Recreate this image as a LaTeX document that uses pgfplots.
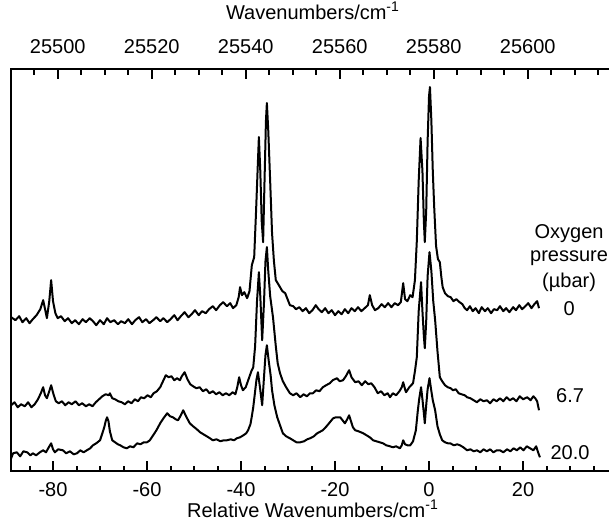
\documentclass[border=0pt]{standalone}
\usepackage{fontspec}
\setmainfont{Liberation Sans}
\usepackage{pgfplots}
\pgfplotsset{compat=1.18}
\pgfplotsset{trace/.style={black, line width=1pt, mark=none, line join=round},
  tickmark/.style={black, line width=1pt, mark=none, ycomb, forget plot}}
\begin{document}
\begin{tikzpicture}
\begin{axis}[
  scale only axis, width=302pt, height=201pt,
  xmin=-88.94, xmax=39.57, ymin=0, ymax=401.7,
  axis line style={line width=1pt},
  ytick=\empty,
  xtick={-80,-60,...,20},
  xtick pos=left, xticklabel pos=left,
  xtick style={draw=none},
  /pgf/number format/assume math mode=true,
  xticklabel style={font=\fontsize{10}{12}\selectfont, yshift=-2pt},
  xlabel={Relative Wavenumbers/cm\textsuperscript{-1}},
  xlabel style={font=\fontsize{10}{12}\selectfont, yshift=5pt},
  clip=false,
]
% top trace: 0 ubar
\addplot[trace] coordinates {
(-88.9,154)(-88.0,151)(-87.2,155)(-86.5,149)(-85.7,153)(-85.0,148)(-84.3,152)(-83.5,156)(-82.7,162)(-82.1,171)
(-81.6,160)(-81.3,153)(-80.8,170)(-80.4,191)(-80.0,170)(-79.5,158)(-79.0,153)(-78.3,155)(-77.5,150)(-76.8,153)
(-76.0,148)(-75.3,151)(-74.5,147)(-73.7,152)(-73.0,149)(-72.2,153)(-71.5,150)(-70.8,146)(-70.0,151)(-69.2,147)
(-68.5,153)(-67.8,149)(-67.0,151)(-66.2,147)(-65.5,150)(-64.7,148)(-64.0,152)(-63.2,147)(-62.5,151)(-61.7,154)
(-61.0,149)(-60.2,152)(-59.5,148)(-58.7,151)(-58.0,154)(-57.2,150)(-56.5,153)(-55.7,149)(-55.0,152)(-54.2,156)
(-53.5,151)(-52.8,155)(-52.0,159)(-51.2,154)(-50.5,157)(-49.8,161)(-49.0,156)(-48.3,160)(-47.5,158)(-46.8,162)
(-46.0,165)(-45.3,161)(-44.5,166)(-43.8,169)(-43.0,165)(-42.3,168)(-41.7,163)(-41.0,166)(-40.5,174)(-40.2,184)
(-39.8,176)(-39.3,179)(-38.7,173)(-38.2,180)(-37.7,206)(-37.2,214)(-36.8,260)(-36.4,310)(-36.2,334)(-35.9,300)
(-35.6,250)(-35.3,229)(-35.0,290)(-34.7,350)(-34.5,368)(-34.2,340)(-33.8,290)(-33.4,238)(-33.0,210)(-32.6,191)
(-32.2,188)(-31.7,184)(-31.2,180)(-30.6,178)(-30.1,172)(-29.6,166)(-28.9,165)(-28.3,162)(-27.6,164)(-26.9,160)
(-26.2,163)(-25.5,158)(-24.8,161)(-24.1,166)(-23.5,162)(-22.8,159)(-22.1,163)(-21.4,158)(-20.7,161)(-20.0,156)
(-19.3,160)(-18.6,157)(-17.9,162)(-17.2,158)(-16.5,163)(-15.8,160)(-15.1,164)(-14.4,160)(-13.7,163)(-13.0,166)
(-12.6,176)(-12.1,166)(-11.5,161)(-10.8,163)(-10.1,167)(-9.4,164)(-8.7,168)(-8.0,164)(-7.3,168)(-6.6,166)
(-6.0,169)(-5.5,188)(-5.1,172)(-4.6,170)(-4.0,176)(-3.5,174)(-3.0,191)(-2.6,230)(-2.2,290)(-1.8,333)
(-1.4,300)(-1.1,250)(-0.9,229)(-0.6,260)(-0.3,330)(0.0,375)(0.2,384)(0.5,350)(0.8,300)(1.1,264)
(1.5,225)(1.9,212)(2.3,209)(2.6,195)(2.9,184)(3.4,178)(4.0,175)(4.6,174)(5.2,170)(5.8,172)
(6.5,169)(7.1,167)(7.6,163)(8.1,161)(8.7,165)(9.3,160)(9.9,163)(10.6,158)(11.2,164)(11.9,160)
(12.5,163)(13.2,158)(13.8,162)(14.5,161)(15.1,165)(15.8,160)(16.4,163)(17.1,159)(17.9,164)(18.5,161)
(19.2,166)(19.8,162)(20.5,165)(21.1,168)(21.8,163)(22.4,167)(23.0,170)(23.4,163)
};
% middle trace: 6.7 ubar
\addplot[trace] coordinates {
(-88.9,66)(-88.2,69)(-87.5,64)(-86.8,67)(-86.0,65)(-85.3,69)(-84.6,64)(-83.9,67)(-83.2,72)(-82.6,78)
(-82.1,84)(-81.7,76)(-81.3,73)(-80.8,80)(-80.4,86)(-79.9,77)(-79.4,70)(-78.8,68)(-78.1,70)(-77.4,66)
(-76.7,69)(-76.0,67)(-75.2,70)(-74.5,66)(-73.8,68)(-73.0,65)(-72.3,67)(-71.6,65)(-70.9,69)(-70.2,72)
(-69.5,75)(-68.8,77)(-68.1,76)(-67.9,78)(-67.4,73)(-66.8,72)(-66.1,70)(-65.4,69)(-64.7,67)(-64.0,70)
(-63.3,68)(-62.6,72)(-61.9,70)(-61.3,74)(-60.6,73)(-59.9,76)(-59.2,74)(-58.6,78)(-57.9,80)(-57.2,84)
(-56.6,90)(-56.0,96)(-55.4,94)(-54.8,95)(-54.2,91)(-53.6,93)(-53.0,91)(-52.6,95)(-52.0,99)(-51.4,92)
(-50.8,87)(-50.2,85)(-49.5,83)(-48.8,84)(-48.1,80)(-47.4,82)(-46.7,78)(-46.0,80)(-45.3,77)(-44.6,79)
(-43.9,76)(-43.2,78)(-42.5,76)(-41.8,79)(-41.2,77)(-40.8,84)(-40.4,94)(-40.0,86)(-39.6,81)(-39.0,84)
(-38.4,92)(-37.8,100)(-37.4,104)(-37.0,125)(-36.6,170)(-36.2,199)(-35.9,175)(-35.5,131)(-35.1,170)(-34.8,210)
(-34.5,224)(-34.2,200)(-33.8,175)(-33.2,154)(-32.6,125)(-32.2,108)(-31.7,98)(-31.1,90)(-30.4,84)(-29.6,78)
(-28.9,76)(-28.2,78)(-27.4,74)(-26.7,77)(-26.0,75)(-25.3,78)(-24.7,78)(-24.0,81)(-23.3,80)(-22.6,84)
(-21.9,86)(-21.1,88)(-20.5,91)(-19.6,93)(-19.0,90)(-18.3,91)(-17.7,95)(-17.0,101)(-16.5,94)(-15.7,89)
(-15.0,90)(-14.3,86)(-13.6,90)(-12.9,87)(-12.3,88)(-11.6,84)(-10.9,78)(-10.2,80)(-9.5,76)(-8.8,78)
(-8.3,74)(-7.7,78)(-7.0,76)(-6.3,80)(-5.8,84)(-5.5,89)(-5.1,82)(-4.9,79)(-4.2,84)(-3.4,88)
(-3.0,100)(-2.6,114)(-2.2,160)(-1.7,189)(-1.4,160)(-1.1,135)(-0.9,123)(-0.6,150)(-0.3,195)(0.1,219)
(0.5,200)(0.9,170)(1.3,151)(1.8,120)(2.3,94)(2.8,90)(3.4,86)(4.0,84)(4.6,83)(5.1,81)
(5.7,82)(6.3,78)(6.9,77)(7.6,76)(8.1,74)(8.8,73)(9.5,71)(10.2,69)(10.9,72)(11.6,70)
(12.3,71)(13.0,68)(13.7,72)(14.4,70)(15.1,73)(15.8,70)(16.5,74)(17.2,71)(17.9,73)(18.6,70)
(19.3,75)(20.0,72)(20.9,74)(21.6,71)(22.2,75)(22.6,73)(23.0,70)(23.4,61)
};
% bottom trace: 20.0 ubar
\addplot[trace] coordinates {
(-88.9,13)(-88.5,18)(-87.7,19)(-87.0,15)(-86.3,20)(-85.5,19)(-84.8,16)(-84.3,18)(-83.6,16)(-82.8,19)
(-82.1,21)(-81.5,19)(-80.9,24)(-80.4,28)(-80.0,22)(-79.6,19)(-78.9,22)(-77.9,21)(-77.2,18)(-76.4,20)
(-75.6,17)(-74.9,18)(-74.2,21)(-73.5,19)(-72.8,21)(-72.1,23)(-71.5,26)(-70.8,28)(-70.0,31)(-69.5,38)
(-69.1,44)(-68.8,50)(-68.5,54)(-68.2,50)(-67.9,40)(-67.4,31)(-66.8,29)(-66.2,27)(-65.7,26)(-65.0,24)
(-64.3,23)(-63.6,25)(-62.9,24)(-62.1,28)(-61.4,27)(-60.7,29)(-60.0,29)(-59.4,31)(-58.7,36)(-58.0,41)
(-57.2,48)(-56.5,53)(-55.7,58)(-55.1,55)(-54.5,54)(-53.9,52)(-53.4,51)(-52.8,56)(-52.3,61)(-51.7,55)
(-50.9,48)(-50.2,45)(-49.4,42)(-48.7,39)(-48.0,37)(-47.3,35)(-46.6,33)(-46.0,31)(-45.2,32)(-44.4,30)
(-43.7,31)(-43.0,31)(-42.2,32)(-41.5,31)(-40.9,33)(-40.2,34)(-39.5,36)(-38.9,38)(-38.5,41)(-38.0,47)
(-37.7,55)(-37.4,64)(-37.0,80)(-36.7,92)(-36.4,99)(-36.0,85)(-35.5,66)(-35.1,95)(-34.8,116)(-34.5,126)
(-34.1,110)(-33.7,96)(-33.4,81)(-32.9,66)(-32.3,54)(-31.7,46)(-31.1,38)(-30.4,35)(-29.6,33)(-28.9,31)
(-28.2,29)(-27.4,29)(-26.6,30)(-25.9,32)(-25.3,33)(-24.5,35)(-23.8,38)(-22.6,41)(-21.8,45)(-21.1,49)
(-20.4,53)(-19.8,54)(-18.9,54)(-18.4,51)(-17.9,48)(-17.4,52)(-17.0,56)(-16.6,50)(-16.2,44)(-15.7,41)
(-15.0,40)(-14.0,38)(-13.3,36)(-12.6,34)(-11.9,31)(-11.2,30)(-10.5,29)(-9.8,28)(-9.1,26)(-8.3,25)
(-7.7,24)(-7.0,25)(-6.2,23)(-5.8,26)(-5.5,31)(-5.1,27)(-4.6,26)(-4.0,26)(-3.4,30)(-2.8,41)
(-2.4,60)(-2.1,72)(-1.7,84)(-1.4,72)(-1.1,58)(-0.9,48)(-0.6,66)(-0.3,82)(0.1,93)(0.5,80)
(0.8,71)(1.3,61)(1.8,45)(2.3,37)(2.8,31)(3.4,29)(4.0,28)(4.5,28)(5.3,26)(6.0,27)
(6.6,26)(7.3,24)(8.1,21)(8.8,22)(9.5,20)(10.2,21)(10.9,19)(11.6,22)(12.3,20)(13.0,22)
(13.7,19)(14.4,21)(15.1,21)(15.8,19)(16.6,22)(17.3,20)(18.0,23)(18.7,21)(19.4,24)(20.1,21)
(20.8,25)(21.5,23)(22.2,21)(22.8,25)(23.2,19)(23.6,14)
};
\node[font=\fontsize{10}{12}\selectfont] at (axis cs:29.8,238) {Oxygen};
\node[font=\fontsize{10}{12}\selectfont] at (axis cs:29.8,213) {pressure};
\node[font=\fontsize{10}{12}\selectfont] at (axis cs:29.8,189) {(µbar)};
\node[font=\fontsize{10}{12}\selectfont] at (axis cs:29.8,163) {0};
\node[font=\fontsize{10}{12}\selectfont] at (axis cs:30.0,76) {6.7};
\node[font=\fontsize{10}{12}\selectfont] at (axis cs:30.0,19) {20.0};
\end{axis}
% bottom tick marks: reversed helper axis, so y=0 lies on the bottom edge
\begin{axis}[
  scale only axis, width=302pt, height=201pt,
  xmin=-88.94, xmax=39.57, ymin=-201, ymax=0, y dir=reverse,
  hide axis,
]
\addplot[tickmark] coordinates {(-80,-5)(-60,-5)(-40,-5)(-20,-5)(0,-5)(20,-5)};
\addplot[tickmark] coordinates {(-85,-2.8)(-75,-2.8)(-70,-2.8)(-65,-2.8)(-55,-2.8)(-50,-2.8)(-45,-2.8)(-35,-2.8)(-30,-2.8)(-25,-2.8)(-15,-2.8)(-10,-2.8)(-5,-2.8)(5,-2.8)(10,-2.8)(15,-2.8)(25,-2.8)(30,-2.8)(35,-2.8)};
\end{axis}
\begin{axis}[
  scale only axis, width=302pt, height=201pt,
  xmin=25490.06, xmax=25618.57, ymin=0, ymax=201, y dir=reverse,
  axis line style={line width=1pt},
  ytick=\empty,
  xtick={25500,25520,...,25600},
  xtick pos=right, xticklabel pos=right,
  xtick style={draw=none},
  scaled x ticks=false,
  /pgf/number format/assume math mode=true,
  xticklabel style={font=\fontsize{10}{12}\selectfont, yshift=4.5pt,
    /pgf/number format/fixed, /pgf/number format/precision=0,
    /pgf/number format/1000 sep={}},
  xlabel={Wavenumbers/cm\textsuperscript{-1}},
  xlabel style={font=\fontsize{10}{12}\selectfont, yshift=3pt},
]
% tick marks of the top axis
\addplot[tickmark] coordinates {(25500,5)(25520,5)(25540,5)(25560,5)(25580,5)(25600,5)};
\addplot[tickmark] coordinates {(25495,2.6)(25505,2.6)(25510,2.6)(25515,2.6)(25525,2.6)(25530,2.6)(25535,2.6)(25545,2.6)(25550,2.6)(25555,2.6)(25565,2.6)(25570,2.6)(25575,2.6)(25585,2.6)(25590,2.6)(25595,2.6)(25605,2.6)(25610,2.6)(25615,2.6)};
\end{axis}
\pgfresetboundingbox
\path[use as bounding box] (-5.5pt,-25pt) rectangle (299pt,235.65pt);
\end{tikzpicture}
\end{document}
